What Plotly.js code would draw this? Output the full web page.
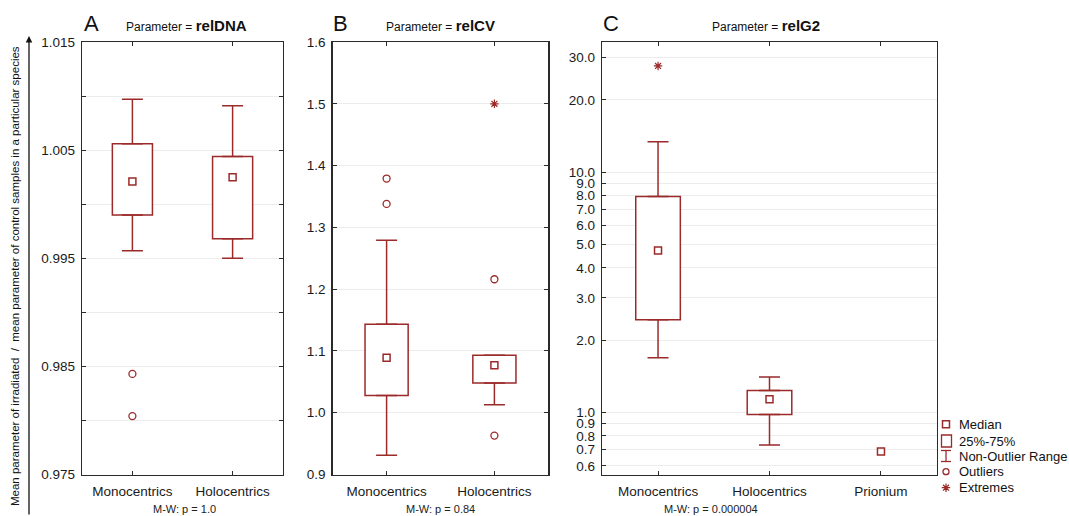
<!DOCTYPE html>
<html><head><meta charset="utf-8">
<script src="https://cdn.plot.ly/plotly-3.0.1.min.js"></script>
<style>html,body{margin:0;padding:0;background:#fff}</style>
</head><body><div id="chart" style="width:1069px;height:516px"></div>
<script>
// ---------- Data ----------
const catsAB = ['Monocentrics', 'Holocentrics'];
const catsC = ['Monocentrics', 'Holocentrics', 'Prionium'];

// Panel A: relDNA
const dnaMedian = [1.0021, 1.0025];
const dnaQ1 = [0.9990, 0.9968];
const dnaQ3 = [1.0056, 1.0044];
const dnaLow = [0.9957, 0.9950];
const dnaHigh = [1.0097, 1.0091];
const dnaOutX = ['Monocentrics', 'Monocentrics'];
const dnaOutY = [0.9843, 0.9804];
const dnaExtX = [];
const dnaExtY = [];

// Panel B: relCV
const cvMedian = [1.089, 1.077];
const cvQ1 = [1.028, 1.048];
const cvQ3 = [1.143, 1.093];
const cvLow = [0.931, 1.013];
const cvHigh = [1.279, 1.093];
const cvOutX = ['Monocentrics', 'Monocentrics', 'Holocentrics', 'Holocentrics'];
const cvOutY = [1.379, 1.338, 1.216, 0.963];
const cvExtX = ['Holocentrics'];
const cvExtY = [1.50];

// Panel C: relG2
const g2Median = [4.72, 1.136, 0.688];
const g2Q1 = [2.43, 0.981, null];
const g2Q3 = [7.93, 1.235, null];
const g2Low = [1.69, 0.733, null];
const g2High = [13.4, 1.406, null];
const g2OutX = [];
const g2OutY = [];
const g2ExtX = ['Monocentrics'];
const g2ExtY = [27.7];

// Tick labels
const ticksA = [0.975, 0.980, 0.985, 0.990, 0.995, 1.000, 1.005, 1.010, 1.015];
const tickTextA = ['0.975', '', '0.985', '', '0.995', '', '1.005', '', '1.015'];
const ticksB = [0.9, 1.0, 1.1, 1.2, 1.3, 1.4, 1.5, 1.6];
const tickTextB = ['0.9', '1.0', '1.1', '1.2', '1.3', '1.4', '1.5', '1.6'];
const ticksC = [0.6, 0.7, 0.8, 0.9, 1, 2, 3, 4, 5, 6, 7, 8, 9, 10, 20, 30];
const tickTextC = ['0.6', '0.7', '0.8', '0.9', '1.0', '2.0', '3.0', '4.0', '5.0', '6.0', '7.0', '8.0', '9.0', '10.0', '20.0', '30.0'];

const pValues = ['M-W: p = 1.0', 'M-W: p = 0.84', 'M-W: p = 0.000004'];
const params = ['relDNA', 'relCV', 'relG2'];
const letters = ['A', 'B', 'C'];
const legendLabels = ['Median', '25%-75%', 'Non-Outlier Range', 'Outliers', 'Extremes'];

// ---------- Styling ----------
const RED = '#9b2a2a';
const FONT = 'Liberation Sans, Arial, sans-serif';
const W = 1069, H = 516;

function panelTraces(xa, ya, cats, q1, q3, med, lo, hi, outX, outY, extX, extY) {
  const t = [];
  t.push({
    type: 'bar', x: cats, y: q3.map((v, i) => v == null ? null : v - q1[i]), base: q1,
    width: 0.4, marker: { color: '#ffffff', line: { color: RED, width: 1.5 } },
    xaxis: xa, yaxis: ya, hoverinfo: 'skip', showlegend: false
  });
  t.push({
    type: 'scatter', mode: 'markers', x: cats, y: hi,
    marker: { color: 'rgba(0,0,0,0)', size: 1 },
    error_y: { type: 'data', symmetric: false,
      array: hi.map(v => v == null ? null : 0),
      arrayminus: hi.map((v, i) => v == null ? null : v - q3[i]),
      width: 10.5, thickness: 1.5, color: RED },
    xaxis: xa, yaxis: ya, hoverinfo: 'skip', showlegend: false
  });
  t.push({
    type: 'scatter', mode: 'markers', x: cats, y: lo,
    marker: { color: 'rgba(0,0,0,0)', size: 1 },
    error_y: { type: 'data', symmetric: false,
      array: lo.map((v, i) => v == null ? null : q1[i] - v),
      arrayminus: lo.map(v => v == null ? null : 0),
      width: 10.5, thickness: 1.5, color: RED },
    xaxis: xa, yaxis: ya, hoverinfo: 'skip', showlegend: false
  });
  t.push({
    type: 'scatter', mode: 'markers', x: cats, y: med,
    marker: { symbol: 'square-open', size: 7, color: RED, line: { width: 1.5, color: RED } },
    xaxis: xa, yaxis: ya, showlegend: false
  });
  t.push({
    type: 'scatter', mode: 'markers', x: outX, y: outY,
    marker: { symbol: 'circle-open', size: 7, color: RED, line: { width: 1.3, color: RED } },
    xaxis: xa, yaxis: ya, showlegend: false
  });
  t.push({
    type: 'scatter', mode: 'markers', x: extX, y: extY,
    marker: { symbol: 'asterisk-open', size: 7, color: RED, line: { width: 1.2, color: RED } },
    xaxis: xa, yaxis: ya, showlegend: false
  });
  return t;
}

let traces = [];
traces = traces.concat(panelTraces('x', 'y', catsAB, dnaQ1, dnaQ3, dnaMedian, dnaLow, dnaHigh, dnaOutX, dnaOutY, dnaExtX, dnaExtY));
traces = traces.concat(panelTraces('x2', 'y2', catsAB, cvQ1, cvQ3, cvMedian, cvLow, cvHigh, cvOutX, cvOutY, cvExtX, cvExtY));
traces = traces.concat(panelTraces('x3', 'y3', catsC, g2Q1, g2Q3, g2Median, g2Low, g2High, g2OutX, g2OutY, g2ExtX, g2ExtY));

// Legend symbols on a hidden pixel-coordinate axis
const legX = 946, legTextX = 956.5;
const legY = [424.3, 441, 456, 471.7, 487.7];
traces.push({ type: 'scatter', mode: 'markers', x: [legX], y: [legY[0]], xaxis: 'x4', yaxis: 'y4',
  marker: { symbol: 'square-open', size: 7, color: RED, line: { width: 1.5, color: RED } }, showlegend: false, hoverinfo: 'skip' });
traces.push({ type: 'scatter', mode: 'markers', x: [legX], y: [legY[3]], xaxis: 'x4', yaxis: 'y4',
  marker: { symbol: 'circle-open', size: 6, color: RED, line: { width: 1.3, color: RED } }, showlegend: false, hoverinfo: 'skip' });
traces.push({ type: 'scatter', mode: 'markers', x: [legX], y: [legY[4]], xaxis: 'x4', yaxis: 'y4',
  marker: { symbol: 'asterisk-open', size: 7, color: RED, line: { width: 1.2, color: RED } }, showlegend: false, hoverinfo: 'skip' });

const yTop = 1 - 42 / H, yBot = 1 - 474.5 / H;
const axisCommon = {
  showline: true, linecolor: '#2a2a2a', linewidth: 1.5, mirror: 'ticks',
  ticks: 'inside', ticklen: 4, tickcolor: '#2a2a2a', tickwidth: 1,
  tickfont: { family: FONT, size: 13.5, color: '#1a1a1a' }, zeroline: false,
  fixedrange: true
};
function xAx(dom, cats, anchor) {
  return Object.assign({}, axisCommon, {
    domain: dom, type: 'category', categoryorder: 'array', categoryarray: cats,
    range: [-0.5, cats.length - 0.5], showgrid: false, anchor: anchor, ticklabelstandoff: 4
  });
}
function yAx(anchor, extra) {
  return Object.assign({}, axisCommon, {
    domain: [yBot, yTop], anchor: anchor, showgrid: true, gridcolor: '#ececec', gridwidth: 1,
    ticklabelstandoff: 3
  }, extra);
}

const layout = {
  width: W, height: H, margin: { l: 0, r: 0, t: 0, b: 0 },
  paper_bgcolor: '#ffffff', plot_bgcolor: 'rgba(0,0,0,0)', showlegend: false,
  font: { family: FONT, color: '#1a1a1a' },
  xaxis: xAx([82.3 / W, 282.7 / W], catsAB, 'y'),
  yaxis: yAx('x', { range: [0.975, 1.015], tickmode: 'array', tickvals: ticksA, ticktext: tickTextA }),
  xaxis2: xAx([332.7 / W, 548.3 / W], catsAB, 'y2'),
  yaxis2: yAx('x2', { range: [0.9, 1.6], tickmode: 'array', tickvals: ticksB, ticktext: tickTextB }),
  xaxis3: xAx([602.3 / W, 936.7 / W], catsC, 'y3'),
  yaxis3: yAx('x3', { type: 'log', range: [Math.log10(0.552), Math.log10(34.85)], tickmode: 'array', tickvals: ticksC, ticktext: tickTextC, mirror: true }),
  xaxis4: { domain: [0, 1], range: [0, W], visible: false, anchor: 'y4', fixedrange: true },
  yaxis4: { domain: [0, 1], range: [H, 0], visible: false, anchor: 'x4', fixedrange: true },
  shapes: [
    { type: 'rect', xref: 'x4', yref: 'y4', x0: 941.5, x1: 951.5, y0: 435, y1: 447, line: { color: RED, width: 1.3 } },
    { type: 'line', xref: 'x4', yref: 'y4', x0: legX, x1: legX, y0: 450.5, y1: 461.5, line: { color: RED, width: 1.3 } },
    { type: 'line', xref: 'x4', yref: 'y4', x0: 941, x1: 951, y0: 450.5, y1: 450.5, line: { color: RED, width: 1.3 } },
    { type: 'line', xref: 'x4', yref: 'y4', x0: 941, x1: 951, y0: 461.5, y1: 461.5, line: { color: RED, width: 1.3 } }
  ],
  annotations: []
};

const titleX = [186.5, 440, 766];
const letterX = [91, 340, 611];
const pX = [184, 440, 711];
for (let i = 0; i < 3; i++) {
  layout.annotations.push({ xref: 'x4', yref: 'y4', x: titleX[i], y: 25, showarrow: false,
    text: '<span style="font-size:12px">Parameter = </span><b>' + params[i] + '</b>',
    font: { family: FONT, size: 15, color: '#111' }, xanchor: 'center', yanchor: 'middle' });
  layout.annotations.push({ xref: 'x4', yref: 'y4', x: letterX[i], y: 23, showarrow: false,
    text: letters[i], font: { family: FONT, size: 22, color: '#111' }, xanchor: 'center', yanchor: 'middle' });
  layout.annotations.push({ xref: 'x4', yref: 'y4', x: pX[i], y: 509, showarrow: false,
    text: pValues[i], font: { family: FONT, size: 11, color: '#222' }, xanchor: 'center', yanchor: 'middle' });
}
for (let i = 0; i < legendLabels.length; i++) {
  layout.annotations.push({ xref: 'x4', yref: 'y4', x: legTextX, y: legY[i], showarrow: false,
    text: legendLabels[i], font: { family: FONT, size: 13, color: '#111' }, xanchor: 'left', yanchor: 'middle' });
}
// Y-axis title and arrow
layout.annotations.push({ xref: 'x4', yref: 'y4', x: 15, y: 276, showarrow: false, textangle: -90,
  text: 'Mean parameter of irradiated&nbsp;&nbsp;/&nbsp;&nbsp;mean parameter of control samples in a particular species',
  font: { family: FONT, size: 11.5, color: '#111' }, xanchor: 'center', yanchor: 'middle' });
layout.annotations.push({ xref: 'x4', yref: 'y4', x: 29, y: 36, text: '', showarrow: true,
  axref: 'pixel', ayref: 'pixel', ax: 0, ay: 485, arrowhead: 2, arrowsize: 1, arrowwidth: 1.3, arrowcolor: '#111' });

Plotly.newPlot('chart', traces, layout, { displayModeBar: false, staticPlot: true });
</script>
</body></html>
